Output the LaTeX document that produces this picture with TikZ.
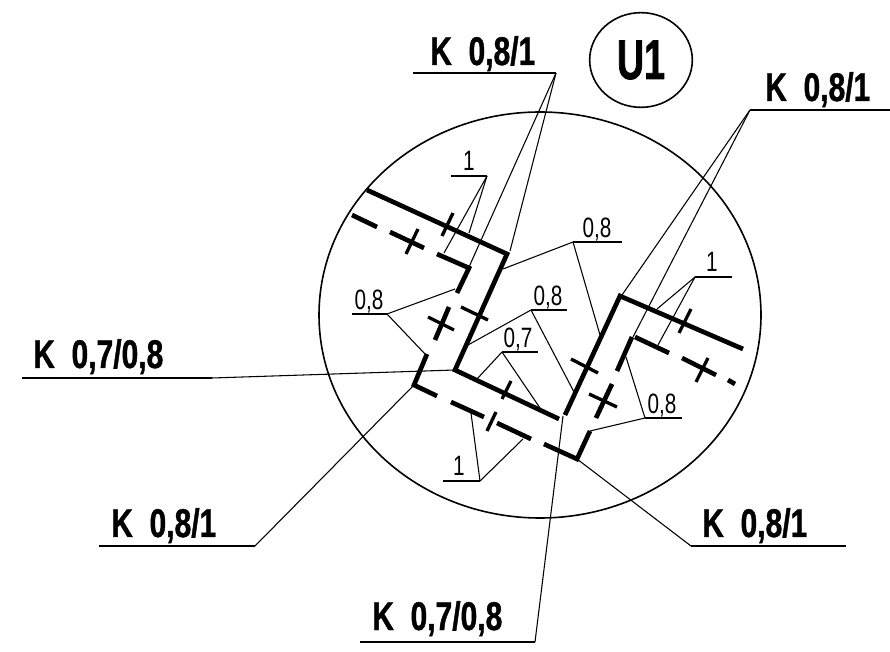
\documentclass[tikz,border=0pt]{standalone}
\usepackage{fontspec}
\usetikzlibrary{shapes.geometric, positioning}
\newfontfamily\markfont[FakeStretch=0.75,FakeBold=1]{Liberation Sans}
\newfontfamily\titlefont[FakeStretch=0.67,FakeBold=1.2]{Liberation Sans}
\newfontfamily\sizefont[FakeStretch=0.74]{Liberation Sans}

\begin{document}
\begin{tikzpicture}[
    x=0.75pt, y=-0.75pt,
    wall/.style={line width=3.5pt},
    tick/.style={line width=2.5pt},
    leader/.style={line width=0.8pt},
    shelf/.style={line width=1.2pt},
    marklabel/.style={font=\markfont\bfseries\fontsize{30}{30}\selectfont, inner sep=0pt, anchor=base west},
    sizelabel/.style={font=\sizefont\fontsize{21}{21}\selectfont, inner sep=0pt, anchor=base},
]
\useasboundingbox (0,0) rectangle (890,652);

% Detail circle and title
\draw[line width=1.2pt] (540,315) ellipse [x radius=221, y radius=203];
\node[ellipse, draw, line width=1.2pt, minimum width=77pt, minimum height=71pt, inner sep=0pt,
      font=\titlefont\bfseries\fontsize{42}{42}\selectfont] (title) at (641,60) {U1};

% Solid line
\draw[wall] (367,190) -- (507,254) -- (455,370) -- (559,419);
\draw[wall] (565,415) -- (620,296) -- (743,349);

% Dashed line
\draw[wall] (352,215) -- (377,227);
\draw[wall] (390,232) -- (424,248);
\draw[wall] (437,254) -- (469,268) -- (457,293);
\draw[wall] (449,307) -- (435,340);
\draw[wall] (427,354) -- (414,385) -- (437,396);
\draw[wall] (451,402) -- (484,417);
\draw[wall] (497,423) -- (531,439);
\draw[wall] (544,444) -- (577,459) -- (590,431);
\draw[wall] (612,384) -- (596,418);
\draw[wall] (617,371) -- (632,337);
\draw[wall] (635,337) -- (669,353);
\draw[wall] (682,358) -- (716,375);
\draw[wall] (728,380) -- (735,384);

% Cross marks
\draw[tick] (453,213) -- (442,236);
\draw[tick] (418,229) -- (406,254);
\draw[tick] (461,307) -- (488,320);
\draw[tick] (428,317) -- (454,330);
\draw[tick] (511,381) -- (502,399);
\draw[tick] (496,412) -- (487,431);
\draw[tick] (571,359) -- (598,373);
\draw[tick] (589,394) -- (617,407);
\draw[tick] (691,309) -- (679,333);
\draw[tick] (708,358) -- (696,382);

% Top left mark
\node[marklabel] (topmark) at (430,65) {K\ \ 0,8/1};
\coordinate (topv) at (556,73);
\draw[shelf] (413,73) -- (topv);
\draw[leader] (topv) -- (469,267);
\draw[leader] (topv) -- (510,251);

% Top right mark
\node[marklabel] (rightmark) at (765,101) {K\ \ 0,8/1};
\coordinate (rightv) at (750,110);
\draw[shelf] (rightv) -- (890,110);
\draw[leader] (rightv) -- (622,295);
\draw[leader] (rightv) -- (633,337);

% Left mark
\node[marklabel] (leftmark) at (33,368) {K\ \ 0,7/0,8};
\coordinate (leftv) at (212,378);
\draw[shelf] (22,378) -- (leftv);
\draw[leader] (leftv) -- (455,370);

% Lower left mark
\node[marklabel] (lowleft) at (111,537) {K\ \ 0,8/1};
\coordinate (lowleftv) at (255,546);
\draw[shelf] (99,546) -- (lowleftv);
\draw[leader] (lowleftv) -- (414,385);

% Lower right mark
\node[marklabel] (lowright) at (702,537) {K\ \ 0,8/1};
\coordinate (lowrightv) at (691,546);
\draw[shelf] (lowrightv) -- (846,546);
\draw[leader] (lowrightv) -- (577,459);

% Bottom mark
\node[marklabel] (botmark) at (372,630) {K\ \ 0,7/0,8};
\coordinate (botv) at (535,642);
\draw[shelf] (360,642) -- (botv);
\draw[leader] (botv) -- (563,416);

% Sizes
\node[sizelabel] (oneA) at (469,171) {1};
\coordinate (oneAv) at (487,176);
\draw[leader] (451,176) -- (oneAv);
\draw[leader] (oneAv) -- (444,253);
\draw[leader] (oneAv) -- (469,233);

\node[sizelabel] (eightA) at (369,310) {0,8};
\coordinate (eightAv) at (387,314);
\draw[leader] (352,314) -- (eightAv);
\draw[leader] (eightAv) -- (455,289);
\draw[leader] (eightAv) -- (425,354);

\node[sizelabel] (eightB) at (597,238) {0,8};
\coordinate (eightBv) at (573,242);
\draw[leader] (eightBv) -- (622,242);
\draw[leader] (eightBv) -- (503,269);
\draw[leader] (eightBv) -- (600,335);

\node[sizelabel] (eightC) at (548,306) {0,8};
\coordinate (eightCv) at (531,310);
\draw[leader] (eightCv) -- (567,310);
\draw[leader] (eightCv) -- (468,345);
\draw[leader] (eightCv) -- (574,392);

\node[sizelabel] (seven) at (518,348) {0,7};
\coordinate (sevenv) at (502,352);
\draw[leader] (sevenv) -- (538,352);
\draw[leader] (sevenv) -- (477,379);
\draw[leader] (sevenv) -- (540,408);

\node[sizelabel] (oneB) at (459,476) {1};
\coordinate (oneBv) at (480,481);
\draw[leader] (443,481) -- (oneBv);
\draw[leader] (oneBv) -- (471,413);
\draw[leader] (oneBv) -- (523,439);

\node[sizelabel] (oneC) at (712,272) {1};
\coordinate (oneCv) at (695,277);
\draw[leader] (oneCv) -- (732,277);
\draw[leader] (oneCv) -- (657,309);
\draw[leader] (oneCv) -- (658,345);

\node[sizelabel] (eightD) at (662,414) {0,8};
\coordinate (eightDv) at (645,418);
\draw[leader] (eightDv) -- (682,418);
\draw[leader] (eightDv) -- (590,431);
\draw[leader] (eightDv) -- (626,357);

\end{tikzpicture}
\end{document}
